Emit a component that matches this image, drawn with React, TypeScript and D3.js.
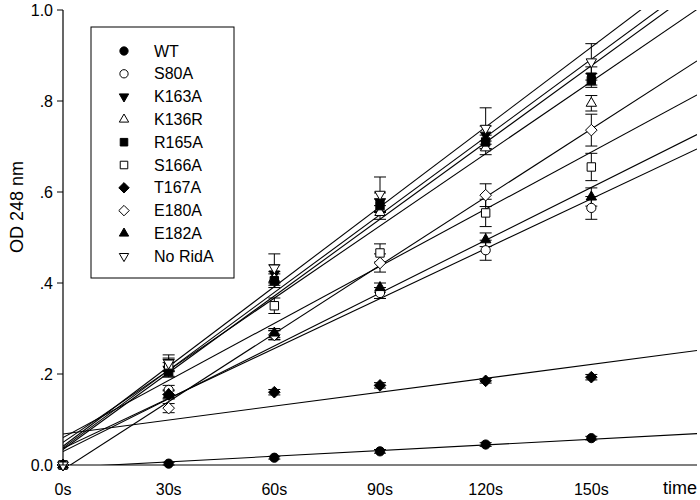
import React from "react";
import * as d3 from "d3";

const times = [0, 30, 60, 90, 120, 150];
const xTickLabels = ["0s", "30s", "60s", "90s", "120s", "150s"];
const yTicks = [0, 0.2, 0.4, 0.6, 0.8, 1.0];
const yTickLabels = ["0.0", ".2", ".4", ".6", ".8", "1.0"];

const seriesNames = ["WT", "S80A", "K163A", "K136R", "R165A", "S166A", "T167A", "E180A", "E182A", "No RidA"];
const seriesShapes = ["circle", "circle", "triDown", "triUp", "square", "square", "diamond", "diamond", "triUp", "triDown"];
const seriesFilled = [true, false, true, false, true, false, true, false, true, false];

const wt = [0, 0.003, 0.016, 0.030, 0.045, 0.059];
const wtErr = [0, 0.003, 0.003, 0.004, 0.004, 0.004];
const s80a = [0, 0.165, 0.285, 0.378, 0.472, 0.565];
const s80aErr = [0, 0.01, 0.01, 0.012, 0.022, 0.025];
const k163a = [0, 0.21, 0.42, 0.578, 0.725, 0.855];
const k163aErr = [0, 0.015, 0.02, 0.02, 0.02, 0.02];
const k136r = [0, 0.22, 0.41, 0.555, 0.697, 0.795];
const k136rErr = [0, 0.012, 0.015, 0.015, 0.015, 0.017];
const r165a = [0, 0.205, 0.405, 0.57, 0.71, 0.845];
const r165aErr = [0, 0.012, 0.015, 0.015, 0.015, 0.015];
const s166a = [0, 0.22, 0.35, 0.466, 0.554, 0.655];
const s166aErr = [0, 0.015, 0.017, 0.02, 0.03, 0.03];
const t167a = [0, 0.155, 0.16, 0.175, 0.185, 0.193];
const t167aErr = [0, 0.008, 0.006, 0.006, 0.005, 0.006];
const e180a = [0, 0.125, 0.286, 0.444, 0.593, 0.736];
const e180aErr = [0, 0.01, 0.01, 0.02, 0.025, 0.035];
const e182a = [0, 0.155, 0.29, 0.39, 0.495, 0.589];
const e182aErr = [0, 0.01, 0.01, 0.01, 0.015, 0.02];
const noRidA = [0, 0.224, 0.433, 0.595, 0.74, 0.886];
const noRidAErr = [0, 0.018, 0.031, 0.038, 0.045, 0.04];

const seriesValues = [wt, s80a, k163a, k136r, r165a, s166a, t167a, e180a, e182a, noRidA];
const seriesErrors = [wtErr, s80aErr, k163aErr, k136rErr, r165aErr, s166aErr, t167aErr, e180aErr, e182aErr, noRidAErr];

const W = 700;
const H = 500;
const left = 63;
const right = 697;
const top = 10;
const bottom = 465;
const FONT = "Arial, 'Liberation Sans', Helvetica, sans-serif";

function shapePath(shape: string, s: number): string {
  if (shape === "circle") {
    const r = 4.6 * s;
    return `M${-r},0A${r},${r} 0 1,0 ${r},0A${r},${r} 0 1,0 ${-r},0Z`;
  }
  if (shape === "square") {
    const h = 4.2 * s;
    return `M${-h},${-h}H${h}V${h}H${-h}Z`;
  }
  if (shape === "diamond") {
    const h = 5.8 * s;
    return `M0,${-h}L${h},0L0,${h}L${-h},0Z`;
  }
  const w = 5.2 * s;
  const hh = 9 * s;
  if (shape === "triUp") {
    return `M0,${-hh * 2 / 3}L${w},${hh / 3}L${-w},${hh / 3}Z`;
  }
  return `M0,${hh * 2 / 3}L${w},${-hh / 3}L${-w},${-hh / 3}Z`;
}

function fit(xs: number[], ys: number[]) {
  const mx = d3.mean(xs) as number;
  const my = d3.mean(ys) as number;
  let sxy = 0;
  let sxx = 0;
  xs.forEach((x, i) => {
    sxy += (x - mx) * (ys[i] - my);
    sxx += (x - mx) * (x - mx);
  });
  const slope = sxy / sxx;
  return { slope, intercept: my - slope * mx };
}

export default function App() {
  const x = d3.scaleLinear().domain([0, 180]).range([left, right]);
  const y = d3.scaleLinear().domain([0, 1]).range([bottom, top]);
  const line = d3.line<[number, number]>().x((d) => x(d[0])).y((d) => y(d[1]));

  const legendX = 91;
  const legendY = 27;
  const legendW = 143;
  const legendH = 251;
  const rowH = 22.8;

  return (
    <svg width={W} height={H} style={{ position: "absolute", left: 0, top: 0, background: "#fff" }} fontFamily={FONT}>
      <defs>
        <clipPath id="plotClip">
          <rect x={left} y={top} width={right - left} height={bottom - top} />
        </clipPath>
      </defs>
      <rect x={0} y={0} width={W} height={H} fill="#fff" />

      {/* regression lines */}
      <g clipPath="url(#plotClip)">
        {seriesValues.map((vals, i) => {
          const f = fit(times, vals);
          const pts: [number, number][] = [
            [0, f.intercept],
            [180, f.intercept + f.slope * 180],
          ];
          return <path key={i} d={line(pts) as string} fill="none" stroke="#000" strokeWidth={1.1} />;
        })}
      </g>

      {/* error bars */}
      {seriesValues.map((vals, i) => (
        <g key={"e" + i} stroke="#000" strokeWidth={1}>
          {vals.map((v, j) => {
            const e = seriesErrors[i][j];
            if (!e) return null;
            const cx = x(times[j]);
            return (
              <g key={j}>
                <line x1={cx} x2={cx} y1={y(v - e)} y2={y(v + e)} />
                <line x1={cx - 6} x2={cx + 6} y1={y(v - e)} y2={y(v - e)} />
                <line x1={cx - 6} x2={cx + 6} y1={y(v + e)} y2={y(v + e)} />
              </g>
            );
          })}
        </g>
      ))}

      {/* markers */}
      {seriesValues.map((vals, i) => (
        <g key={"m" + i}>
          {vals.map((v, j) => (
            <path
              key={j}
              d={shapePath(seriesShapes[i], 1)}
              transform={`translate(${x(times[j])},${y(v)})`}
              fill={seriesFilled[i] ? "#000" : "#fff"}
              stroke="#000"
              strokeWidth={1}
            />
          ))}
        </g>
      ))}

      {/* axes */}
      <line x1={left} x2={left} y1={top} y2={bottom} stroke="#000" strokeWidth={1.2} />
      <line x1={left} x2={right} y1={bottom} y2={bottom} stroke="#000" strokeWidth={1.2} />
      {yTicks.map((t, i) => (
        <g key={"yt" + i}>
          <line x1={left - 6} x2={left} y1={y(t)} y2={y(t)} stroke="#000" strokeWidth={1} />
          <text x={left - 10} y={y(t)} dy="0.35em" textAnchor="end" fontSize={16} fill="#000">
            {yTickLabels[i]}
          </text>
        </g>
      ))}
      {times.map((t, i) => (
        <text key={"xt" + i} x={x(t)} y={bottom + 30} textAnchor="middle" fontSize={16} fill="#000">
          {xTickLabels[i]}
        </text>
      ))}
      <text x={right} y={bottom + 29} textAnchor="end" fontSize={18} fill="#000">time</text>
      <text
        transform={`translate(23,207) rotate(-90)`}
        textAnchor="middle"
        fontSize={18}
        fill="#000"
      >
        OD 248 nm
      </text>

      {/* legend */}
      <rect x={legendX} y={legendY} width={legendW} height={legendH} fill="#fff" stroke="#000" strokeWidth={1} />
      {seriesNames.map((name, i) => {
        const cy = legendY + 24 + i * rowH;
        return (
          <g key={"l" + i}>
            <path
              d={shapePath(seriesShapes[i], 0.9)}
              transform={`translate(${legendX + 33},${cy})`}
              fill={seriesFilled[i] ? "#000" : "#fff"}
              stroke="#000"
              strokeWidth={1}
            />
            <text x={legendX + 63} y={cy} dy="0.35em" fontSize={16} fill="#000">
              {name}
            </text>
          </g>
        );
      })}
    </svg>
  );
}
